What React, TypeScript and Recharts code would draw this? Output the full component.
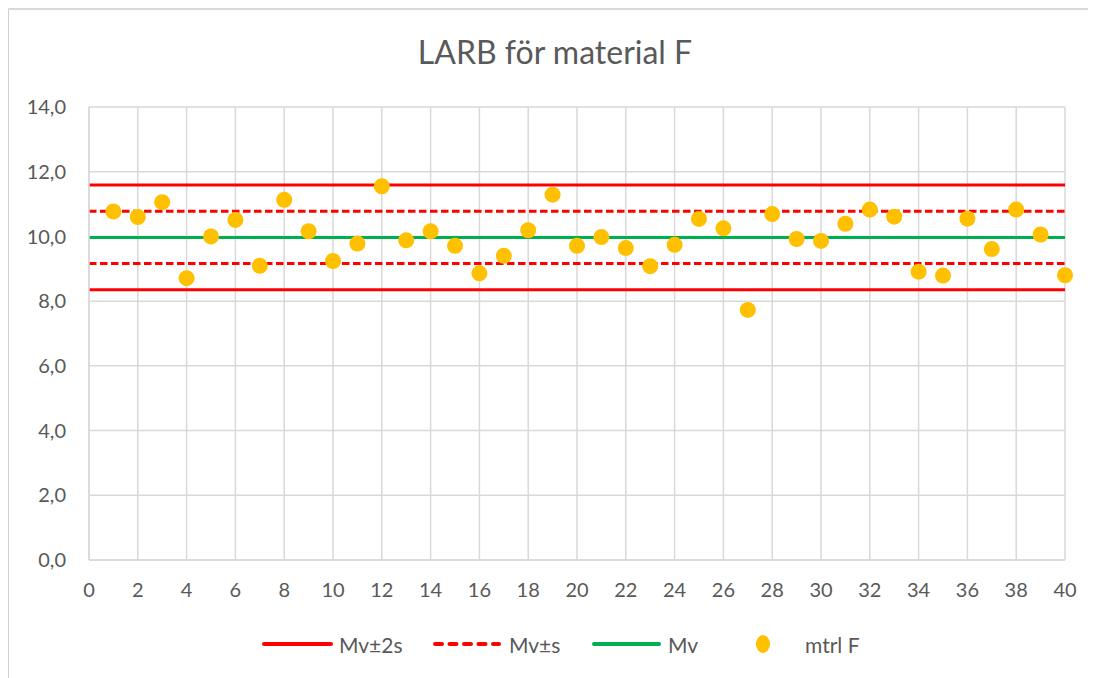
import React from "react";
import {
  ComposedChart,
  Scatter,
  XAxis,
  YAxis,
  CartesianGrid,
  ReferenceLine,
} from "recharts";

const sampleNumbers = [
  1, 2, 3, 4, 5, 6, 7, 8, 9, 10, 11, 12, 13, 14, 15, 16, 17, 18, 19, 20,
  21, 22, 23, 24, 25, 26, 27, 28, 29, 30, 31, 32, 33, 34, 35, 36, 37, 38, 39, 40,
];
const mtrlF = [
  10.77, 10.6, 11.06, 8.71, 10.0, 10.51, 9.09, 11.13, 10.16, 9.24,
  9.78, 11.55, 9.88, 10.16, 9.71, 8.86, 9.4, 10.19, 11.29, 9.71,
  9.98, 9.64, 9.08, 9.74, 10.54, 10.25, 7.73, 10.69, 9.92, 9.86,
  10.39, 10.83, 10.61, 8.91, 8.79, 10.55, 9.61, 10.83, 10.06, 8.8,
];
const mv = 9.97;
const mvPlus2s = 11.59;
const mvMinus2s = 8.35;
const mvPlusS = 10.78;
const mvMinusS = 9.16;
const xTicks = [0, 2, 4, 6, 8, 10, 12, 14, 16, 18, 20, 22, 24, 26, 28, 30, 32, 34, 36, 38, 40];
const yTicks = [0, 2, 4, 6, 8, 10, 12, 14];
const legendLabels = ["Mv±2s", "Mv±s", "Mv", "mtrl F"];

const data = sampleNumbers.map((x, i) => ({ x, y: mtrlF[i] }));

const FONT = "Lato, 'Noto Sans', sans-serif";
const TEXT = "#595959";
const GRID = "#d9d9d9";
const BORDER = "#cfcfcf";
const RED = "#FF0000";
const GREEN = "#00B050";
const GOLD = "#FFC000";

const Dot = (props: any) => {
  const { cx, cy } = props;
  if (cx == null || cy == null) return null;
  return <circle cx={cx} cy={cy} r={8} fill={GOLD} />;
};

export default function App() {
  return (
    <div style={{ position: "relative", width: 1088, height: 670, fontFamily: FONT }}>
      <div
        style={{
          position: "absolute",
          left: -1,
          top: 0,
          width: 2,
          height: 670,
          background: BORDER,
        }}
      />
      <div
        style={{
          position: "absolute",
          left: -1,
          top: 0,
          width: 1089,
          height: 2,
          background: GRID,
        }}
      />
      <div
        style={{
          position: "absolute",
          left: 347,
          top: 28,
          width: 400,
          textAlign: "center",
          fontSize: 32,
          lineHeight: "32px",
          color: TEXT,
          whiteSpace: "nowrap",
        }}
      >
        LARB för material F
      </div>
      <div style={{ position: "absolute", left: 0, top: 0 }}>
        <ComposedChart
          width={1088}
          height={670}
          data={data}
          margin={{ top: 99, right: 31, bottom: 78, left: 21 }}
        >
          <CartesianGrid stroke={GRID} strokeWidth={1.5} />
          <XAxis
            type="number"
            dataKey="x"
            domain={[0, 40]}
            ticks={xTicks}
            interval={0}
            height={40}
            tickSize={0}
            tickMargin={23}
            axisLine={{ stroke: GRID, strokeWidth: 1.5 }}
            tickLine={false}
            tick={{ fill: TEXT, fontSize: 20, fontFamily: FONT }}
          />
          <YAxis
            type="number"
            dataKey="y"
            domain={[0, 14]}
            ticks={yTicks}
            interval={0}
            width={60}
            tickSize={0}
            tickMargin={23}
            axisLine={{ stroke: GRID, strokeWidth: 1.5 }}
            tickLine={false}
            tickFormatter={(v: number) => v.toFixed(1).replace(".", ",")}
            tick={{ fill: TEXT, fontSize: 20, fontFamily: FONT }}
          />
          <ReferenceLine y={mvPlus2s} stroke={RED} strokeWidth={3} />
          <ReferenceLine y={mvMinus2s} stroke={RED} strokeWidth={3} />
          <ReferenceLine y={mvPlusS} stroke={RED} strokeWidth={3} strokeDasharray="7.5 3.5" />
          <ReferenceLine y={mvMinusS} stroke={RED} strokeWidth={3} strokeDasharray="7.5 3.5" />
          <ReferenceLine y={mv} stroke={GREEN} strokeWidth={3} />
          <Scatter
            dataKey="y"
            data={data}
            fill={GOLD}
            shape={<Dot />}
            isAnimationActive={false}
          />
        </ComposedChart>
      </div>
      <svg
        width={1088}
        height={670}
        style={{ position: "absolute", left: 0, top: 0, pointerEvents: "none" }}
      >
        <line x1={256} x2={323} y1={636} y2={636} stroke={RED} strokeWidth={4} strokeLinecap="round" />
        <text x={331} y={636} dominantBaseline="central" fontSize={21} fill={TEXT} fontFamily={FONT}>
          {legendLabels[0]}
        </text>
        <line x1={427} x2={491} y1={636} y2={636} stroke={RED} strokeWidth={4} strokeLinecap="round" strokeDasharray="7 7.5" />
        <text x={501} y={636} dominantBaseline="central" fontSize={21} fill={TEXT} fontFamily={FONT}>
          {legendLabels[1]}
        </text>
        <line x1={586} x2={651} y1={636} y2={636} stroke={GREEN} strokeWidth={4} strokeLinecap="round" />
        <text x={660} y={636} dominantBaseline="central" fontSize={21} fill={TEXT} fontFamily={FONT}>
          {legendLabels[2]}
        </text>
        <ellipse cx={755} cy={636} rx={7} ry={9} fill={GOLD} />
        <text x={797} y={636} dominantBaseline="central" fontSize={21} fill={TEXT} fontFamily={FONT}>
          {legendLabels[3]}
        </text>
      </svg>
    </div>
  );
}
